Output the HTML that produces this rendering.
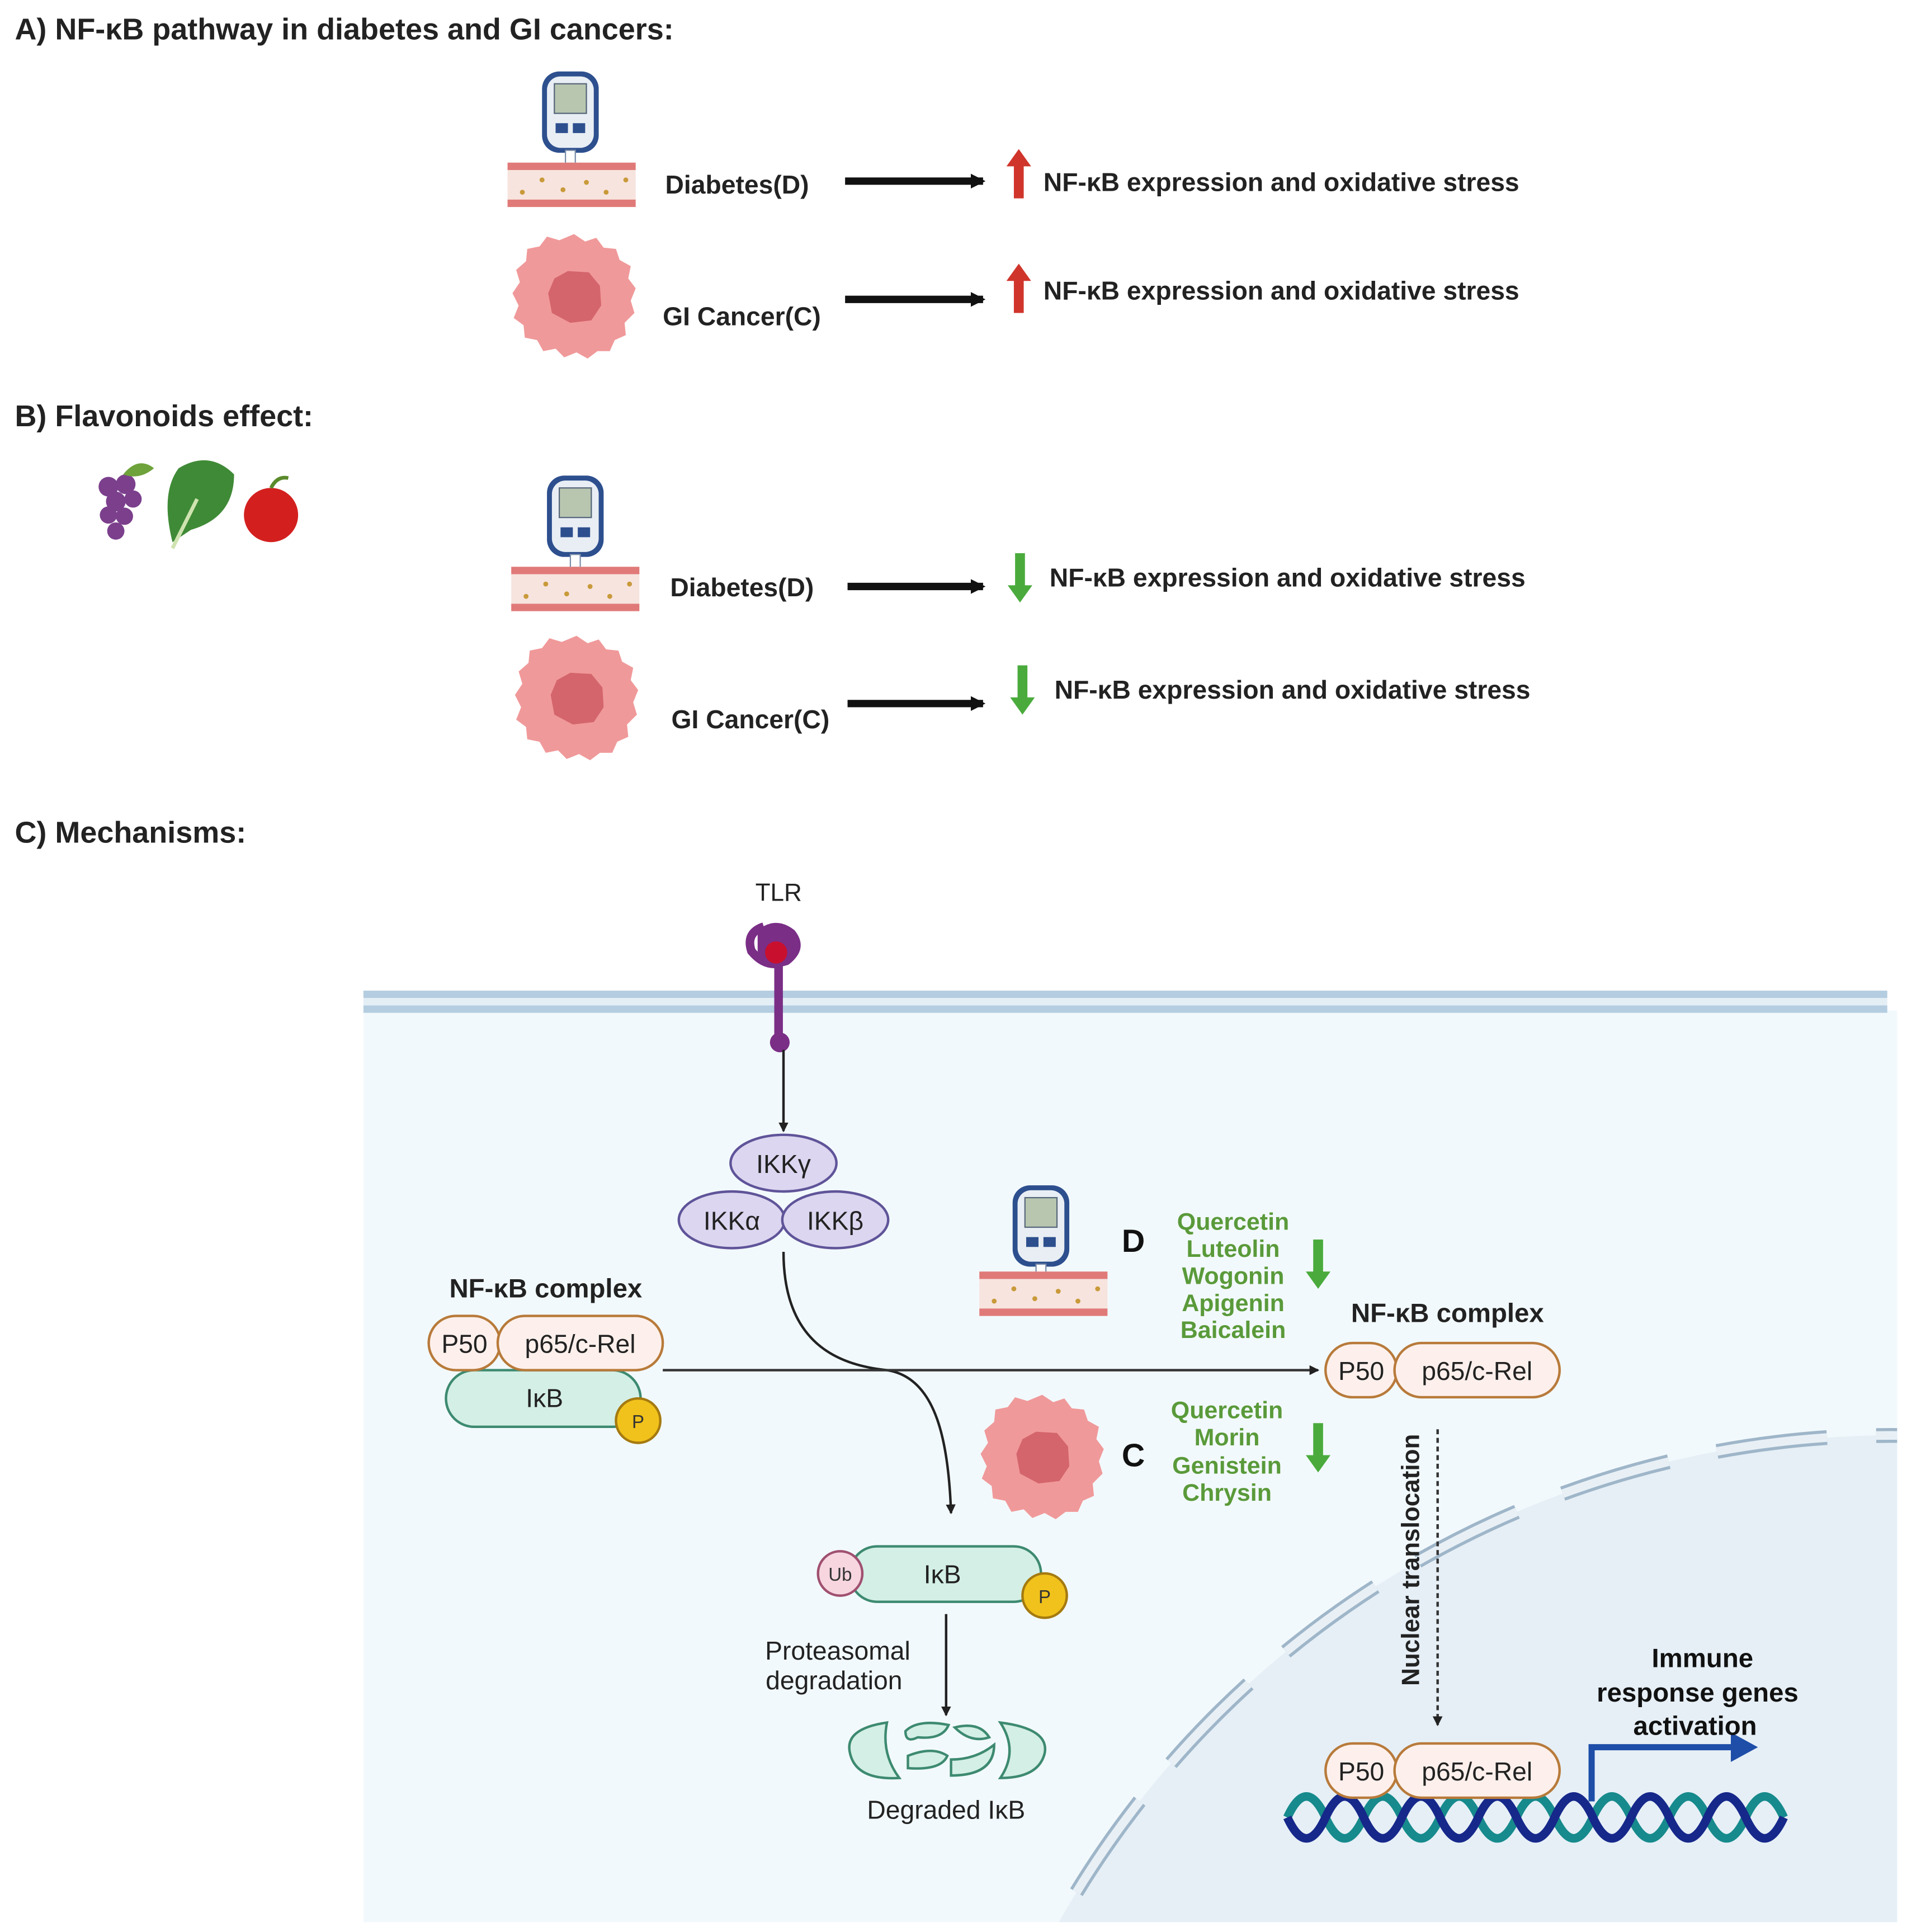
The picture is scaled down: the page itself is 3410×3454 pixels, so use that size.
<!DOCTYPE html>
<html><head><meta charset="utf-8"><style>html,body{margin:0;padding:0;background:#fff;width:3410px;height:3454px;overflow:hidden}svg{display:block}text{font-family:"Liberation Sans",Arial,sans-serif}</style></head>
<body>
<svg width="3410" height="3454" viewBox="0 0 1548 1568" xmlns="http://www.w3.org/2000/svg">
<defs>
<marker id="ah" markerWidth="8" markerHeight="8" refX="7" refY="4" orient="auto" markerUnits="userSpaceOnUse"><path d="M0,0 L8,4 L0,8 z" fill="#222"/></marker>
<marker id="ahb" markerWidth="12" markerHeight="12" refX="10" refY="6" orient="auto" markerUnits="userSpaceOnUse"><path d="M0,0 L12,6 L0,12 z" fill="#111"/></marker>
<g id="gluco">
<rect x="0" y="0" width="46" height="66" rx="14" fill="#2d4f8e"/>
<rect x="4" y="4" width="38" height="58" rx="11" fill="#e8eef4"/>
<rect x="10" y="10" width="26" height="24" fill="#b8c6b0" stroke="#56667a"/>
<path d="M11,42 h10 v8 h-10z M25,42 h10 v8 h-10z" fill="#2d4f8e"/>
<rect x="19" y="64" width="8" height="12" fill="#fff" stroke="#7a8ca8"/>
<rect x="20" y="74" width="6" height="5" fill="#2d6fb8"/>
</g>
<g id="vessel">
<rect x="0" y="0" width="104" height="36" fill="#f7e4de"/>
<rect x="0" y="0" width="104" height="6" fill="#e07a78"/>
<rect x="0" y="30" width="104" height="6" fill="#e07a78"/>
<g fill="#c99a3a"><circle cx="12" cy="24" r="2"/><circle cx="28" cy="14" r="2"/><circle cx="45" cy="22" r="2"/><circle cx="64" cy="16" r="2"/><circle cx="80" cy="24" r="2"/><circle cx="96" cy="14" r="2"/></g>
</g>
<g id="cell">
<path d="M0,-50 L9,-44 18,-47 24,-39 34,-38 37,-29 46,-24 44,-14 50,-6 46,4 49,14 41,22 42,32 33,36 29,45 19,45 11,51 2,46 -8,50 -15,43 -25,45 -30,36 -40,34 -41,24 -49,18 -45,8 -50,-2 -44,-11 -47,-21 -39,-28 -38,-38 -28,-40 -22,-48 -12,-45 z" fill="#f0999a"/>
<path d="M-5,-20 L12,-19 21,-8 22,8 14,20 -3,22 -18,14 -21,-2 -16,-14z" fill="#d4656d"/>
</g>
<g id="upR"><path d="M-4,40 V14 H-10 L0,0 L10,14 H4 V40z" fill="#d0352b"/></g>
<g id="dnG"><path d="M-4,0 V26 H-10 L0,40 L10,26 H4 V0z" fill="#4aab3c"/></g>
</defs>

<text x="12" y="32" font-size="24.5" font-weight="bold" fill="#222">A) NF-κB pathway in diabetes and GI cancers:</text>
<use href="#gluco" x="440" y="58"/>
<use href="#vessel" x="412" y="132"/>
<text x="540" y="157" font-size="21" font-weight="bold" fill="#222">Diabetes(D)</text>
<line x1="686" y1="147" x2="798" y2="147" stroke="#111" stroke-width="6" marker-end="url(#ahb)"/>
<use href="#upR" x="827" y="121"/>
<text x="847" y="155" font-size="21" font-weight="bold" fill="#222">NF-κB expression and oxidative stress</text>
<use href="#cell" x="466" y="240"/>
<text x="538" y="264" font-size="21" font-weight="bold" fill="#222">GI Cancer(C)</text>
<line x1="686" y1="243" x2="798" y2="243" stroke="#111" stroke-width="6" marker-end="url(#ahb)"/>
<use href="#upR" x="827" y="214"/>
<text x="847" y="243" font-size="21" font-weight="bold" fill="#222">NF-κB expression and oxidative stress</text>

<text x="12" y="346" font-size="24.5" font-weight="bold" fill="#222">B) Flavonoids effect:</text>
<g>
<g fill="#7b3f8c"><circle cx="88" cy="395" r="8"/><circle cx="102" cy="393" r="8"/><circle cx="94" cy="407" r="8"/><circle cx="108" cy="405" r="7"/><circle cx="88" cy="418" r="7"/><circle cx="101" cy="419" r="7"/><circle cx="94" cy="431" r="7"/></g>
<path d="M100,385 q12,-15 25,-5 q-12,10 -25,5z" fill="#6ea23a"/>
<path d="M140,440 q-10,-40 5,-60 q25,-15 45,5 q0,35 -35,45z" fill="#3f8a36"/>
<line x1="140" y1="445" x2="160" y2="405" stroke="#cfe3b0" stroke-width="3"/>
<circle cx="220" cy="418" r="22" fill="#d3201f"/>
<path d="M220,396 q5,-10 14,-8" stroke="#5a8a2a" stroke-width="3" fill="none"/>
</g>
<use href="#gluco" x="444" y="386"/>
<use href="#vessel" x="415" y="460"/>
<text x="544" y="484" font-size="21" font-weight="bold" fill="#222">Diabetes(D)</text>
<line x1="688" y1="476" x2="798" y2="476" stroke="#111" stroke-width="6" marker-end="url(#ahb)"/>
<use href="#dnG" x="828" y="449"/>
<text x="852" y="476" font-size="21" font-weight="bold" fill="#222">NF-κB expression and oxidative stress</text>
<use href="#cell" x="468" y="566"/>
<text x="545" y="591" font-size="21" font-weight="bold" fill="#222">GI Cancer(C)</text>
<line x1="688" y1="571" x2="798" y2="571" stroke="#111" stroke-width="6" marker-end="url(#ahb)"/>
<use href="#dnG" x="830" y="540"/>
<text x="856" y="567" font-size="21" font-weight="bold" fill="#222">NF-κB expression and oxidative stress</text>

<text x="12" y="684" font-size="24.5" font-weight="bold" fill="#222">C) Mechanisms:</text>

<rect x="295" y="820" width="1245" height="740" fill="#f2f9fc"/>
<clipPath id="cc"><rect x="295" y="820" width="1245" height="740"/></clipPath>
<g clip-path="url(#cc)">
<circle cx="1535" cy="1940" r="775" fill="#e6eff6"/>
<circle cx="1535" cy="1940" r="775" fill="none" stroke="#9fb6c9" stroke-width="12" stroke-dasharray="90 40"/>
<circle cx="1535" cy="1940" r="775" fill="none" stroke="#e8f0f6" stroke-width="7" stroke-dasharray="90 40"/>
</g>
<rect x="295" y="804" width="1237" height="6" fill="#b5cde0"/>
<rect x="295" y="816" width="1237" height="6" fill="#b5cde0"/>
<rect x="295" y="810" width="1237" height="6" fill="#e4eef5"/>

<text x="632" y="731" font-size="20" text-anchor="middle" fill="#222">TLR</text>
<path d="M620,752 q-15,5 -10,20 q10,12 22,10 l0,58" stroke="#7a2e86" stroke-width="7" fill="none"/>
<path d="M615,755 q15,-12 30,0 q12,15 -5,28 q-15,5 -25,-3z" fill="#7a2e86"/>
<circle cx="630" cy="773" r="9" fill="#c8102e"/>
<circle cx="633" cy="846" r="8" fill="#7a2e86"/>
<line x1="636" y1="852" x2="636" y2="918" stroke="#222" stroke-width="2" marker-end="url(#ah)"/>

<g fill="#dcd6f0" stroke="#5f5499" stroke-width="2">
<ellipse cx="636" cy="944" rx="43" ry="23"/>
<ellipse cx="594" cy="990" rx="43" ry="23"/>
<ellipse cx="678" cy="990" rx="43" ry="23"/>
</g>
<g font-size="21" fill="#222" text-anchor="middle">
<text x="636" y="952">IKKγ</text><text x="594" y="998">IKKα</text><text x="678" y="998">IKKβ</text>
</g>
<path d="M636,1016 C636,1090 680,1108 720,1112 C760,1118 770,1170 772,1228" stroke="#222" stroke-width="2" fill="none" marker-end="url(#ah)"/>

<text x="443" y="1053" font-size="21.5" font-weight="bold" text-anchor="middle" fill="#222">NF-κB complex</text>
<rect x="362" y="1112" width="158" height="46" rx="23" fill="#d4efe6" stroke="#3d8a70" stroke-width="2"/>
<text x="442" y="1142" font-size="21" text-anchor="middle" fill="#222">IκB</text>
<circle cx="518" cy="1153" r="18" fill="#f1c21b" stroke="#a57a10" stroke-width="2"/>
<text x="518" y="1159" font-size="15" text-anchor="middle" fill="#333">P</text>
<rect x="348" y="1068" width="58" height="44" rx="22" fill="#fdf0ec" stroke="#b87a3a" stroke-width="2"/>
<rect x="404" y="1068" width="134" height="44" rx="22" fill="#fdf0ec" stroke="#b87a3a" stroke-width="2"/>
<text x="377" y="1098" font-size="21" text-anchor="middle" fill="#222">P50</text>
<text x="471" y="1098" font-size="21" text-anchor="middle" fill="#222">p65/c-Rel</text>
<line x1="538" y1="1112" x2="1070" y2="1112" stroke="#333" stroke-width="2" marker-end="url(#ah)"/>

<use href="#gluco" x="822" y="962"/>
<use href="#vessel" x="795" y="1032"/>
<text x="920" y="1016" font-size="26" font-weight="bold" text-anchor="middle" fill="#111">D</text>
<g font-size="19.5" font-weight="bold" fill="#5a9a3a" text-anchor="middle">
<text x="1001" y="998">Quercetin</text><text x="1001" y="1020">Luteolin</text><text x="1001" y="1042">Wogonin</text><text x="1001" y="1064">Apigenin</text><text x="1001" y="1086">Baicalein</text>
<text x="996" y="1151">Quercetin</text><text x="996" y="1173">Morin</text><text x="996" y="1196">Genistein</text><text x="996" y="1218">Chrysin</text>
</g>
<use href="#dnG" x="1070" y="1006"/>
<use href="#dnG" x="1070" y="1155"/>
<use href="#cell" x="846" y="1182"/>
<text x="920" y="1190" font-size="26" font-weight="bold" text-anchor="middle" fill="#111">C</text>

<text x="1175" y="1073" font-size="21.5" font-weight="bold" text-anchor="middle" fill="#222">NF-κB complex</text>
<rect x="1076" y="1090" width="58" height="44" rx="22" fill="#fdf0ec" stroke="#b87a3a" stroke-width="2"/>
<rect x="1132" y="1090" width="134" height="44" rx="22" fill="#fdf0ec" stroke="#b87a3a" stroke-width="2"/>
<text x="1105" y="1120" font-size="21" text-anchor="middle" fill="#222">P50</text>
<text x="1199" y="1120" font-size="21" text-anchor="middle" fill="#222">p65/c-Rel</text>
<text transform="translate(1152,1266) rotate(-90)" font-size="20" font-weight="bold" text-anchor="middle" fill="#222">Nuclear translocation</text>
<line x1="1167" y1="1160" x2="1167" y2="1400" stroke="#333" stroke-width="2" stroke-dasharray="4 3" marker-end="url(#ah)"/>

<rect x="690" y="1255" width="155" height="45" rx="22" fill="#d4efe6" stroke="#3d8a70" stroke-width="2"/>
<text x="765" y="1285" font-size="21" text-anchor="middle" fill="#222">IκB</text>
<circle cx="682" cy="1277" r="18" fill="#f7d6e0" stroke="#a05070" stroke-width="2"/>
<text x="682" y="1283" font-size="15" text-anchor="middle" fill="#333">Ub</text>
<circle cx="848" cy="1295" r="18" fill="#f1c21b" stroke="#a57a10" stroke-width="2"/>
<text x="848" y="1301" font-size="15" text-anchor="middle" fill="#333">P</text>
<text x="680" y="1347" font-size="21" text-anchor="middle" fill="#222">Proteasomal</text>
<text x="677" y="1371" font-size="21" text-anchor="middle" fill="#222">degradation</text>
<line x1="768" y1="1310" x2="768" y2="1392" stroke="#222" stroke-width="2" marker-end="url(#ah)"/>
<g fill="#d4efe6" stroke="#3d8a70" stroke-width="2">
<path d="M720,1398 q-35,5 -30,25 q5,22 40,20 q-15,-20 -10,-45z"/>
<path d="M735,1405 q10,-10 35,-5 q-5,12 -25,10 q-10,5 -10,-5z"/>
<path d="M737,1425 q20,-8 32,0 q-5,12 -32,10z"/>
<path d="M775,1402 q20,-5 28,8 q-15,5 -28,-8z"/>
<path d="M772,1428 q20,0 35,-12 q0,25 -35,25z"/>
<path d="M812,1398 q40,5 36,25 q-5,20 -36,20 q15,-22 0,-45z"/>
</g>
<text x="768" y="1476" font-size="21" text-anchor="middle" fill="#222">Degraded IκB</text>

<path d="M1045,1475 q15.5,-34 31,0 t31,0 t31,0 t31,0 t31,0 t31,0 t31,0 t31,0 t31,0 t31,0 t31,0 t31,0 t31,0" stroke="#168a8c" stroke-width="7" fill="none"/>
<path d="M1045,1475 q15.5,34 31,0 t31,0 t31,0 t31,0 t31,0 t31,0 t31,0 t31,0 t31,0 t31,0 t31,0 t31,0 t31,0" stroke="#16288a" stroke-width="7" fill="none"/>
<rect x="1076" y="1415" width="58" height="44" rx="22" fill="#fdf0ec" stroke="#b87a3a" stroke-width="2"/>
<rect x="1132" y="1415" width="134" height="44" rx="22" fill="#fdf0ec" stroke="#b87a3a" stroke-width="2"/>
<text x="1105" y="1445" font-size="21" text-anchor="middle" fill="#222">P50</text>
<text x="1199" y="1445" font-size="21" text-anchor="middle" fill="#222">p65/c-Rel</text>
<path d="M1292,1462 V1418 H1410" stroke="#1e4ea8" stroke-width="5" fill="none"/>
<path d="M1405,1406 L1427,1418 L1405,1430z" fill="#1e4ea8"/>
<g font-size="21.5" font-weight="bold" text-anchor="middle" fill="#111">
<text x="1382" y="1353">Immune</text><text x="1378" y="1381">response genes</text><text x="1376" y="1408">activation</text>
</g>
</svg>
</body></html>
